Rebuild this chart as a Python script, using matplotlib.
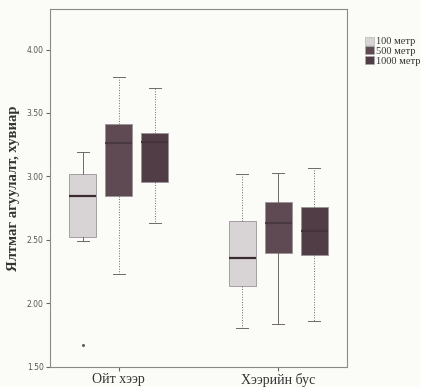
import matplotlib
matplotlib.use("Agg")
import matplotlib.pyplot as plt
from matplotlib.patches import Patch
import numpy as np

# categories and series
groups = ["Ойт хээр", "Хээрийн бус"]
series = ["100 метр", "500 метр", "1000 метр"]

# box statistics: [group][series]
whislo = [[2.49, 2.23, 2.63], [1.81, 1.84, 1.86]]
q1 = [[2.52, 2.85, 2.96], [2.14, 2.40, 2.38]]
med = [[2.85, 3.26, 3.27], [2.36, 2.63, 2.57]]
q3 = [[3.02, 3.41, 3.34], [2.65, 2.80, 2.76]]
whishi = [[3.19, 3.78, 3.70], [3.02, 3.03, 3.07]]
fliers = [[[1.67], [], []], [[], [], []]]

colors = ["#d8d4d6", "#5f4a53", "#503d45"]
median_colors = ["#3b2a31", "#4a3a40", "#45353b"]
whisker_styles = [["-", ":", ":"], [":", "-", ":"]]

fig = plt.figure(figsize=(4.21, 3.87), dpi=100)
fig.patch.set_facecolor("#fbfbf7")
ax = fig.add_axes([0.119, 0.052, 0.705, 0.925])
ax.set_facecolor("#fbfbf7")

offset = 0.225
width = 0.17
for g in range(len(groups)):
    for s in range(len(series)):
        stats = [{
            "whislo": whislo[g][s], "q1": q1[g][s], "med": med[g][s],
            "q3": q3[g][s], "whishi": whishi[g][s], "fliers": fliers[g][s],
        }]
        pos = g + (s - 1) * offset
        ax.bxp(stats, positions=[pos], widths=width, patch_artist=True,
               showfliers=True,
               boxprops=dict(facecolor=colors[s], edgecolor="#9a9398", linewidth=0.6),
               medianprops=dict(color=median_colors[s], linewidth=1.6),
               whiskerprops=dict(color="#6e686c", linewidth=0.7,
                                 linestyle=whisker_styles[g][s]),
               capprops=dict(color="#6e686c", linewidth=0.7),
               capwidths=width * 0.45,
               flierprops=dict(marker="s", markersize=1.0, markerfacecolor="#555",
                               markeredgecolor="#555"))

ax.set_xlim(-0.43, 1.43)
ax.set_ylim(1.5, 4.32)
ax.set_xticks(range(len(groups)))
ax.set_xticklabels(groups, family="Liberation Serif", fontsize=10, color="#333")
ax.set_yticks([1.5, 2.0, 2.5, 3.0, 3.5, 4.0])
ax.set_yticklabels(["1.50", "2.00", "2.50", "3.00", "3.50", "4.00"],
                   fontsize=5.5, color="#555")
ax.tick_params(axis="both", length=3, width=0.8, color="#666", pad=1.5)
for sp in ax.spines.values():
    sp.set_color("#8a8a8a")
    sp.set_linewidth(0.8)

ax.set_ylabel("Ялтмаг агуулалт, хувиар", family="Liberation Serif",
              fontweight="bold", fontsize=10.5, color="#333", labelpad=5)

handles = [Patch(facecolor=c, edgecolor="#aaa", linewidth=0.4) for c in colors]
leg = fig.legend(handles, series, loc="upper left", bbox_to_anchor=(0.868, 0.905),
                 frameon=False, prop=dict(family="Liberation Serif", size=7.5),
                 handlelength=0.8, handleheight=0.8, handletextpad=0.25,
                 labelspacing=0.0, borderaxespad=0, borderpad=0)
for t in leg.get_texts():
    t.set_color("#333")

fig.savefig("out.png", dpi=100, facecolor=fig.get_facecolor())
